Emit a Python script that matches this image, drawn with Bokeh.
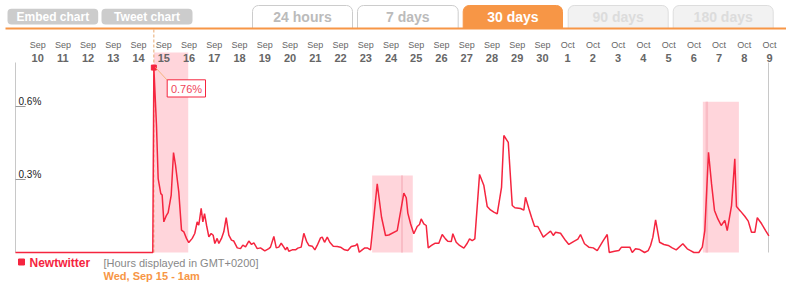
from bokeh.plotting import figure
from bokeh.models import Range1d
from bokeh.core.properties import value
from bokeh.embed import file_html
from bokeh.resources import INLINE

# ---------------- data ----------------
# hours since Wed Sep 15 00:00 (GMT+0200), share of tweets in %
hours = [
    -130.6, 0, 1, 3.5, 5.1, 7.6, 8.9, 10.5, 13.0, 14.6, 17.5, 19.7, 21.6, 24.7, 27.3, 29.5,
    32.0, 34.2, 37.5, 39.9, 42.2, 43.7, 46.0, 47.6, 49.2, 51.1, 53.3, 55.5, 57.4, 59.0,
    61.2, 62.8, 65.3, 67.5, 69.8, 72.3, 74.8, 77.0, 80.3, 83.4, 85.6, 88.2, 91.3, 93.9,
    96.1, 99.3, 102.4, 106.5, 110.3,
    111.9, 115.1, 117.4, 119.8, 122.1, 124.6, 126.2, 127.8, 129.3, 132.6, 135.7, 137.9,
    141.1, 143.6, 146.2, 148.4, 151.6, 154.1, 156.3, 159.5, 161.1, 163.3, 165.9, 168.3,
    171.6, 175.4, 178.5, 182.3, 185.4, 188.7, 192.8, 194.4, 196.3, 199.1, 201.6, 203.9,
    207.0, 213.4, 217.5, 221.3, 224.4, 232.4,
    238.7, 241.0, 242.5, 245.1, 248.2, 251.4, 253.6, 255.2, 257.7, 260.0, 261.9, 265.0,
    268.2, 272.0, 275.2, 278.3, 280.5, 283.8, 285.3, 288.5, 291.7, 295.8, 299.0, 301.2,
    303.7, 306.2, 310.7, 314.8, 318.0, 321.1, 324.3, 327.5, 331.6, 333.8, 338.0, 341.8,
    344.3, 349.7,
    352.8, 354.4, 357.6, 360.1, 363.0, 366.1, 371.3, 375.1, 378.2, 380.8, 383.0, 387.7,
    392.5, 395.6, 400.4, 404.2, 406.7, 410.5, 414.6, 418.8, 422.6, 428.3, 432.1, 434.0,
    439.1, 443.2, 445.7, 449.5, 453.6, 455.9, 459.0, 463.1, 467.6, 471.1, 473.3,
    475.5, 478.1, 481.9, 486.0, 490.1, 493.9, 497.7, 504.0, 508.2, 511.3, 514.5, 519.2,
    522.5, 524.9, 528.4, 531.3, 534.1, 537.3, 540.5, 543.9, 546.2, 550.3, 553.4, 555.0,
    558.8, 562.9, 566.2, 569.3, 572.5, 574.8, 578.9, 582.7, 585.8,
]
share = [
    0, 0, 0.76, 0.523, 0.304, 0.242, 0.236, 0.126, 0.153, 0.164, 0.236, 0.411, 0.359, 0.249, 0.092, 0.085,
    0.058, 0.041, 0.058, 0.078, 0.126, 0.112, 0.181, 0.126, 0.160, 0.112, 0.064, 0.078, 0.071, 0.037,
    0.058, 0.037, 0.058, 0.085, 0.143, 0.071, 0.051, 0.047, 0.019, 0.016, 0.030, 0.023, 0.047, 0.033,
    0.040, 0.016, 0.019, 0.007, 0.016,
    0.022, 0.066, 0.019, 0.022, 0.038, 0.022, 0.011, 0.022, 0.005, 0.011, 0.011, 0.018,
    0.022, 0.079, 0.046, 0.029, 0.026, 0.011, 0.029, 0.060, 0.063, 0.042, 0.063, 0.042,
    0.026, 0.025, 0.022, 0.011, 0.008, 0.025, 0.029, 0.036, 0.001, 0.011, 0.019, 0.019,
    0.011, 0.282, 0.145, 0.070, 0.072, 0.090,
    0.244, 0.225, 0.162, 0.118, 0.077, 0.107, 0.115, 0.138, 0.118, 0.111, 0.019, 0.029,
    0.038, 0.038, 0.074, 0.056, 0.046, 0.045, 0.077, 0.042, 0.029, 0.018, 0.038, 0.056,
    0.049, 0.056, 0.321, 0.275, 0.189, 0.175, 0.166, 0.159, 0.268, 0.481, 0.453, 0.193,
    0.184, 0.181,
    0.174, 0.227, 0.180, 0.145, 0.108, 0.107, 0.063, 0.077, 0.088, 0.070, 0.083, 0.079,
    0.049, 0.033, 0.046, 0.055, 0.074, 0.036, 0.022, 0.019, 0.008, 0.049, 0.074, 0.000,
    0.005, 0.008, 0.022, 0.022, 0.022, 0.000, 0.015, 0.012, 0.000, 0.008, 0.029,
    0.063, 0.134, 0.042, 0.033, 0.029, 0.019, 0.011, 0.036, 0.015, 0.008, 0.000, 0.000,
    0.022, 0.090, 0.412, 0.282, 0.173, 0.138, 0.111, 0.132, 0.090, 0.193, 0.385, 0.189,
    0.170, 0.149, 0.129, 0.083, 0.083, 0.143, 0.118, 0.090, 0.068,
]

# highlighted periods (hours) and their heights (%)
band_start = [1.0, 208.6, 523.0]
band_end = [33.7, 247.2, 557.3]
band_top = [0.822, 0.316, 0.62]
stripe_start = [236.0, 525.6]
stripe_end = [237.9, 528.0]
stripe_top = [0.316, 0.62]

# x-axis labels (one per day, Sep 10 ... Oct 9)
label_month = ["Sep"] * 21 + ["Oct"] * 9
label_day = ["10", "11", "12", "13", "14", "15", "16", "17", "18", "19", "20", "21", "22",
             "23", "24", "25", "26", "27", "28", "29", "30",
             "1", "2", "3", "4", "5", "6", "7", "8", "9"]
label_day_offset = list(range(-5, 25))   # days relative to Sep 15

y_ticks = [0.3, 0.6]
y_tick_labels = ["0.3%", "0.6%"]

peak_hour = 1
peak_value = 0.76
peak_label = "0.76%"

buttons = ["Embed chart", "Tweet chart"]
tabs = ["24 hours", "7 days", "30 days", "90 days", "180 days"]

series_name = "Newtwitter"
tz_note = "[Hours displayed in GMT+0200]"
hover_note = "Wed, Sep 15 - 1am"

# ---------------- layout helpers (pixel -> data) ----------------
W, H = 786, 282
X0, KX = 152.3, 25.24 / 24.0     # px of hour 0, px per hour
Y0, KY = 252.0, 243.3            # px of 0 %, px per 1 %


def sx(px):
    return (px - X0) / KX


def sy(py):
    return (Y0 - py) / KY


FONT = value("Liberation Sans")
RED = "#f5253f"
ORANGE = "#f79646"

p = figure(width=W, height=H, x_range=Range1d(sx(0), sx(W)), y_range=Range1d(sy(H), sy(0)),
           output_backend="svg", toolbar_location=None, x_axis_type=None, y_axis_type=None,
           min_border=0, outline_line_color=None, background_fill_color="white",
           border_fill_color="white")

# ---- header: buttons ----
p.quad(left=[sx(7), sx(101)], right=[sx(97.7), sx(192)], top=[sy(8.3)] * 2, bottom=[sy(24)] * 2,
       fill_color="#cccccc", line_color=None, border_radius=4)
p.text(x=[sx(52.3), sx(146.5)], y=[sy(16.5)] * 2, text=buttons, text_font=FONT,
       text_font_size="12px", text_font_style="bold", text_color="white",
       text_align="center", text_baseline="middle")

# ---- header: tabs ----
tab_l = [252, 357, 462.7, 567.7, 672.7]
tab_r = [352, 457.7, 562, 667.7, 772.7]
p.quad(left=[sx(v) for v in tab_l], right=[sx(v) for v in tab_r],
       top=[sy(5)] * 5, bottom=[sy(28)] * 5,
       fill_color=["white", "white", ORANGE, "#f2f2f2", "#f2f2f2"],
       line_color=["#cccccc", "#cccccc", ORANGE, "#dddddd", "#dddddd"],
       line_width=1, border_radius=(6, 6, 0, 0))
p.text(x=[sx((a + b) / 2) for a, b in zip(tab_l, tab_r)], y=[sy(16.5)] * 5, text=tabs,
       text_font=FONT, text_font_size="14px", text_font_style="bold",
       text_color=["#bbbbbb", "#bbbbbb", "white", "#dcdcdc", "#dcdcdc"],
       text_align="center", text_baseline="middle")
p.segment(x0=[sx(5)], x1=[sx(W)], y0=[sy(28)], y1=[sy(28)], line_color=ORANGE, line_width=2)

# ---- plot area ----
p.quad(left=band_start, right=band_end, bottom=0, top=band_top,
       fill_color="#ffd5db", line_color=None)
p.quad(left=stripe_start, right=stripe_end, bottom=0, top=stripe_top,
       fill_color="#f9bcc5", line_color=None)

p.segment(x0=[sx(15), sx(768)], x1=[sx(15), sx(768)], y0=[0, 0], y1=[sy(62), sy(62)],
          line_color="#c8c8c8", line_width=1)
p.segment(x0=[sx(15)] * 2, x1=[sx(25)] * 2, y0=y_ticks, y1=y_ticks,
          line_color="#999999", line_width=1)
p.text(x=[sx(18)] * 2, y=[t + 5.0 / KY for t in y_ticks], text=y_tick_labels, text_font=FONT,
       text_font_size="10px", text_color="#222222", text_align="left",
       text_baseline="middle")

# day labels
day_x = [d * 24 + 10.5 for d in label_day_offset]
p.text(x=day_x, y=[sy(44)] * len(day_x), text=label_month, text_font=FONT,
       text_font_size="9px", text_color="#666666", text_align="center", text_baseline="middle")
p.text(x=day_x, y=[sy(57.5)] * len(day_x), text=label_day, text_font=FONT,
       text_font_size="11px", text_font_style="bold", text_color="#666666",
       text_align="center", text_baseline="middle")

# crosshair at hovered point
p.segment(x0=[peak_hour], x1=[peak_hour], y0=[0], y1=[sy(29)], line_color="#e8a870",
          line_width=1, line_dash="3 2")

# series
p.line(hours, share, line_color=RED, line_width=1.5)
p.scatter([peak_hour], [peak_value], marker="square", size=5, fill_color=RED, line_color=RED)

# tooltip
p.segment(x0=[sx(155)], x1=[sx(167)], y0=[sy(67)], y1=[sy(80)], line_color="#f5b47e", line_width=1)
p.quad(left=[sx(166.7)], right=[sx(205)], top=[sy(79.3)], bottom=[sy(96.5)],
       fill_color="white", line_color=RED, line_width=1)
p.text(x=[sx(186)], y=[sy(88)], text=[peak_label], text_font=FONT, text_font_size="11px",
       text_color="#f0455a", text_align="center", text_baseline="middle")

# legend / notes
p.scatter([sx(21)], [sy(261.5)], marker="square", size=6, fill_color=RED, line_color=RED)
p.text(x=[sx(29)], y=[sy(262)], text=[series_name], text_font=FONT, text_font_size="12px",
       text_font_style="bold", text_color=RED, text_align="left", text_baseline="middle")
p.text(x=[sx(103)], y=[sy(262)], text=[tz_note], text_font=FONT, text_font_size="11px",
       text_color="#888888", text_align="left", text_baseline="middle")
p.text(x=[sx(103)], y=[sy(275.5)], text=[hover_note], text_font=FONT, text_font_size="11px",
       text_font_style="bold", text_color=ORANGE, text_align="left", text_baseline="middle")

open("out.html", "w").write(file_html(p, INLINE))
